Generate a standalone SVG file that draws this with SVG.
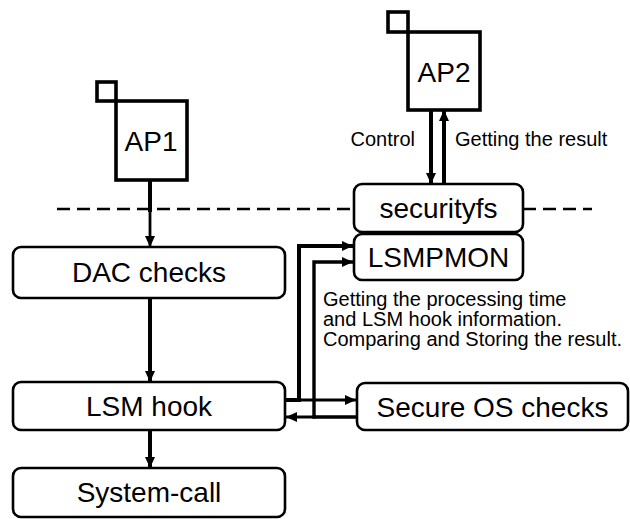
<svg xmlns="http://www.w3.org/2000/svg" width="630" height="519" viewBox="0 0 630 519">
<defs>
<style>
.box{fill:#fff;stroke:#000;stroke-width:2.6}
.ap{fill:#fff;stroke:#000;stroke-width:3.6}
.big{font-family:"Liberation Sans",Arial,sans-serif;font-size:28px;fill:#000;text-anchor:middle}
.small{font-family:"Liberation Sans",Arial,sans-serif;font-size:20px;fill:#000}
.ln{fill:none;stroke:#000;stroke-width:4}
.dash{fill:none;stroke:#000;stroke-width:2.6;stroke-dasharray:13 7}
</style>
<marker id="ah" markerUnits="userSpaceOnUse" markerWidth="12" markerHeight="10" refX="11" refY="5" orient="auto">
<path d="M0,0 L11,5 L0,10 Z" fill="#000"/>
</marker>
</defs>
<rect width="630" height="519" fill="#fff"/>
<g id="boundary">
<line class="dash" x1="57" y1="209" x2="354" y2="209"/>
<line class="dash" x1="523" y1="209" x2="592" y2="209"/>
</g>
<g id="connectors">
<line class="ln" x1="150" y1="180" x2="150" y2="212"/>
<line class="ln" x1="150" y1="210" x2="150" y2="247" style="stroke-width:2.8" marker-end="url(#ah)"/>
<line class="ln" x1="150" y1="298" x2="150" y2="382" marker-end="url(#ah)"/>
<line class="ln" x1="150" y1="430" x2="150" y2="468" marker-end="url(#ah)"/>
<line class="ln" x1="431" y1="110" x2="431" y2="184" marker-end="url(#ah)"/>
<line class="ln" x1="444" y1="184" x2="444" y2="110" marker-end="url(#ah)"/>
<path class="ln" d="M285,400 H299 V246 H353" marker-end="url(#ah)"/>
<line class="ln" x1="297" y1="400" x2="356" y2="400" style="stroke-width:3" marker-end="url(#ah)"/>
<path class="ln" d="M357,417 H314 V262 H353" style="stroke-width:3.4" marker-end="url(#ah)"/>
<line class="ln" x1="316" y1="417" x2="286" y2="417" style="stroke-width:3" marker-end="url(#ah)"/>
</g>
<g id="AP1">
<rect class="ap" x="116" y="101" width="71" height="79"/>
<rect class="ap" x="97" y="82" width="19" height="19"/>
<text class="big" x="151" y="151">AP1</text>
</g>
<g id="AP2">
<rect class="ap" x="408" y="32" width="72" height="78"/>
<rect class="ap" x="388" y="12" width="20" height="20"/>
<text class="big" x="444" y="82">AP2</text>
</g>
<g id="securityfs">
<rect class="box" x="354" y="184" width="169" height="48" rx="8"/>
<text class="big" x="438.5" y="218">securityfs</text>
</g>
<g id="LSMPMON">
<rect class="box" x="354" y="234" width="169" height="46" rx="8"/>
<text class="big" x="438.5" y="267">LSMPMON</text>
</g>
<g id="DAC">
<rect class="box" x="13" y="247" width="272" height="51" rx="8"/>
<text class="big" x="149" y="282">DAC checks</text>
</g>
<g id="LSMhook">
<rect class="box" x="13" y="382" width="272" height="48" rx="8"/>
<text class="big" x="149" y="416">LSM hook</text>
</g>
<g id="SystemCall">
<rect class="box" x="13" y="468" width="272" height="49" rx="8"/>
<text class="big" x="149" y="502">System-call</text>
</g>
<g id="SecureOS">
<rect class="box" x="357" y="383" width="271" height="47" rx="8"/>
<text class="big" x="492.5" y="417">Secure OS checks</text>
</g>
<g id="labels">
<text class="small" x="415" y="146" text-anchor="end">Control</text>
<text class="small" x="455" y="146">Getting the result</text>
<text class="small" x="323" y="306">Getting the processing time</text>
<text class="small" x="323" y="326">and LSM hook information.</text>
<text class="small" x="323" y="346">Comparing and Storing the result.</text>
</g>
</svg>
